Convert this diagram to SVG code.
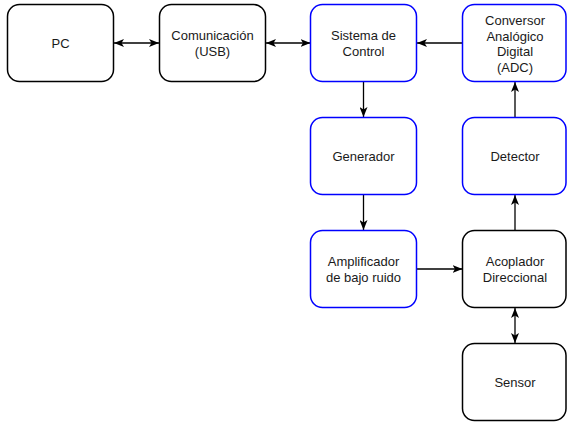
<svg xmlns="http://www.w3.org/2000/svg" width="567" height="423" viewBox="0 0 567 423">
<defs>
<marker id="ah" viewBox="0 0 10 8" refX="10" refY="4" markerWidth="10" markerHeight="8" markerUnits="userSpaceOnUse" orient="auto-start-reverse">
<path d="M0,0 L10,4 L0,8 L2.5,4 Z" fill="#000"/>
</marker>
</defs>
<style>
.box{fill:#fff;stroke:#000;stroke-width:1.5}
.blue{stroke:#0000ff}
.lbl{font-family:"Liberation Sans",Arial,sans-serif;font-size:13px;fill:#1a1a1a;text-anchor:middle}
.c{fill:none;stroke:#000;stroke-width:1.3}
</style>
<g id="connectors">
<line class="c" x1="114" y1="43" x2="159" y2="43" marker-start="url(#ah)" marker-end="url(#ah)"/>
<line class="c" x1="266" y1="43" x2="310.5" y2="43" marker-start="url(#ah)" marker-end="url(#ah)"/>
<line class="c" x1="462.5" y1="43" x2="417" y2="43" marker-end="url(#ah)"/>
<line class="c" x1="363.5" y1="82" x2="363.5" y2="117" marker-end="url(#ah)"/>
<line class="c" x1="363.5" y1="195" x2="363.5" y2="230" marker-end="url(#ah)"/>
<line class="c" x1="417" y1="269" x2="462.5" y2="269" marker-end="url(#ah)"/>
<line class="c" x1="515" y1="230.5" x2="515" y2="195" marker-end="url(#ah)"/>
<line class="c" x1="515" y1="117.5" x2="515" y2="82" marker-end="url(#ah)"/>
<line class="c" x1="515" y1="308" x2="515" y2="343" marker-start="url(#ah)" marker-end="url(#ah)"/>
</g>
<g id="pc">
<rect class="box" x="7.5" y="4.5" width="106" height="77" rx="12"/>
<text class="lbl" x="60.5" y="47.5">PC</text>
</g>
<g id="comunicacion">
<rect class="box" x="159.5" y="4.5" width="106" height="77" rx="12"/>
<text class="lbl" x="212.5" y="40">Comunicación</text>
<text class="lbl" x="212.5" y="55.5">(USB)</text>
</g>
<g id="sistema">
<rect class="box blue" x="310.5" y="4.5" width="106" height="77" rx="12"/>
<text class="lbl" x="363.5" y="40">Sistema de</text>
<text class="lbl" x="363.5" y="55.5">Control</text>
</g>
<g id="conversor">
<rect class="box blue" x="462.5" y="4.5" width="103.5" height="77" rx="12"/>
<text class="lbl" x="515" y="25">Conversor</text>
<text class="lbl" x="515" y="40.5">Analógico</text>
<text class="lbl" x="515" y="56">Digital</text>
<text class="lbl" x="515" y="71.5">(ADC)</text>
</g>
<g id="generador">
<rect class="box blue" x="310.5" y="117.5" width="106" height="77" rx="12"/>
<text class="lbl" x="363.5" y="160.5">Generador</text>
</g>
<g id="detector">
<rect class="box blue" x="462.5" y="117.5" width="103.5" height="77" rx="12"/>
<text class="lbl" x="515" y="160.5">Detector</text>
</g>
<g id="amplificador">
<rect class="box blue" x="310.5" y="230.5" width="106" height="77" rx="12"/>
<text class="lbl" x="363.5" y="266">Amplificador</text>
<text class="lbl" x="363.5" y="281.5">de bajo ruido</text>
</g>
<g id="acoplador">
<rect class="box" x="462.5" y="230.5" width="103.5" height="77" rx="12"/>
<text class="lbl" x="515" y="266">Acoplador</text>
<text class="lbl" x="515" y="281.5">Direccional</text>
</g>
<g id="sensor">
<rect class="box" x="462.5" y="343.5" width="103.5" height="77" rx="12"/>
<text class="lbl" x="515" y="386.5">Sensor</text>
</g>
</svg>
